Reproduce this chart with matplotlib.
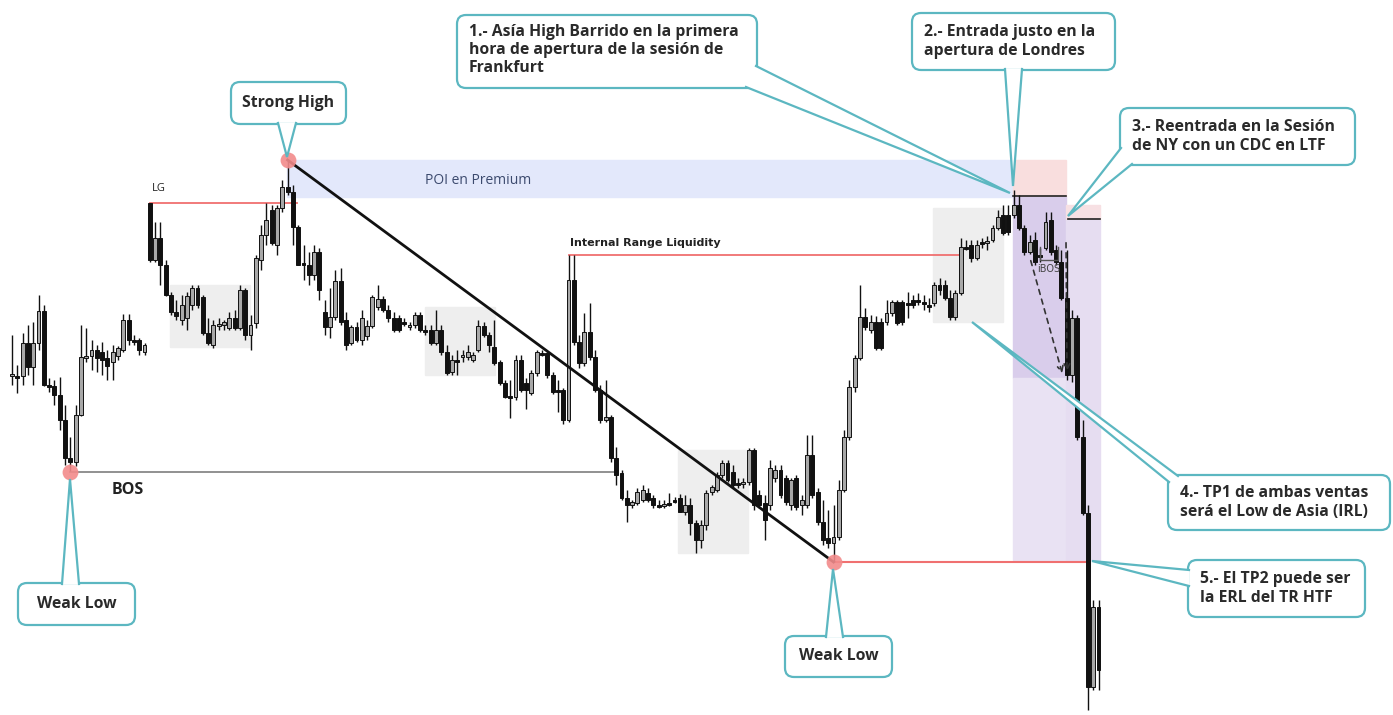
import matplotlib.pyplot as plt
from matplotlib.patches import FancyBboxPatch, Polygon, Rectangle

# candle levels measured downward from the chart top (y axis inverted)
opens = [375, 376, 376, 343, 367, 343, 311, 385, 386, 395, 420, 458, 462,
         415, 357, 356, 350, 352, 358, 362, 356, 350, 320, 340, 340, 352,
         203, 260, 238, 265, 295, 312, 320, 318, 305, 288, 297, 333, 345,
         326, 325, 328, 318, 328, 290, 335, 323, 260, 235, 210, 245, 208, 187,
         192, 227, 263, 265, 275, 252, 312, 327, 317, 281, 320, 343, 327, 340,
         336, 326, 307, 299, 310, 318, 318, 322, 326, 325, 315, 330, 330, 343,
         330, 352, 372, 360, 357, 357, 360, 350,
         326, 335, 347, 362, 383, 396, 397, 360, 383, 393, 373, 353, 353, 375,
         390, 390, 420, 280, 342, 363, 332, 357, 390, 420, 417, 458,
         473, 498, 505, 503, 500, 493, 498, 505, 505, 503, 500, 498, 512, 505,
         523, 540, 525, 492, 490, 475, 463, 472, 483, 483, 482, 450, 495, 503,
         505, 478, 470, 478, 505, 478, 505, 505, 455, 492, 522, 538, 543,
         537, 490, 437, 387, 358, 317, 330, 322, 322, 322, 313, 302, 302, 303,
         300, 300, 302, 305, 303, 285, 285, 298, 317, 293, 247, 245, 258, 242,
         242, 240, 228, 215, 215, 215, 205, 228, 252, 240, 255, 248, 220, 250,
         262, 298, 375, 318, 437, 513, 687, 607]
highs = [335, 365, 333, 325, 322, 295, 305, 378, 380, 377, 405, 437, 405,
         325, 328, 340, 345, 342, 350, 345, 346, 314, 314, 335, 338, 343,
         203, 222, 222, 260, 292, 300, 295, 292, 285, 285, 295, 318, 320,
         318, 320, 312, 310, 285, 288, 315, 255, 225, 203, 205, 205, 180, 160,
         185, 225, 245, 252, 245, 248, 300, 288, 270, 268, 312, 325, 322, 310,
         320, 295, 285, 296, 305, 312, 315, 318, 322, 312, 312, 325, 325, 310,
         325, 345, 355, 350, 350, 345, 352, 320,
         322, 332, 320, 360, 380, 380, 355, 355, 378, 370, 350, 350, 352, 372,
         380, 388, 255, 255, 335, 313, 303, 350, 385, 380, 415, 447,
         470, 490, 500, 488, 485, 488, 495, 500, 500, 493, 497, 494, 495, 498,
         520, 520, 490, 485, 472, 460, 460, 465, 478, 478, 448, 448, 490, 495,
         460, 465, 465, 475, 478, 475, 495, 435, 435, 488, 500, 510, 505,
         480, 430, 380, 355, 285, 308, 315, 316, 318, 300, 300, 300, 300, 292,
         295, 293, 295, 298, 282, 278, 280, 290, 290, 238, 240, 240, 240, 238,
         236, 225, 210, 205, 205, 190, 195, 225, 235, 232, 248, 212, 212, 245,
         250, 250, 310, 315, 420, 505, 600, 600]
lows = [385, 393, 385, 375, 385, 350, 386, 392, 405, 430, 465, 471, 466,
        416, 362, 370, 372, 375, 380, 380, 360, 352, 345, 345, 355, 355,
        262, 262, 285, 296, 315, 320, 325, 330, 310, 308, 335, 345, 348,
        330, 330, 330, 330, 330, 340, 350, 328, 270, 245, 245, 255, 212, 195,
        245, 265, 280, 285, 280, 300, 335, 338, 320, 325, 350, 345, 342, 345,
        340, 328, 310, 312, 322, 332, 332, 326, 330, 328, 332, 335, 345, 345,
        355, 375, 375, 375, 362, 360, 362, 352,
        337, 352, 365, 385, 398, 418, 400, 392, 409, 395, 376, 356, 378, 394,
        412, 424, 422, 345, 368, 366, 360, 392, 423, 422, 462, 485,
        500, 522, 508, 505, 502, 502, 508, 508, 508, 506, 503, 512, 515, 535,
        553, 548, 530, 495, 492, 478, 482, 488, 488, 488, 485, 510, 508, 540,
        510, 482, 498, 505, 510, 510, 515, 508, 498, 525, 545, 548, 562,
        540, 492, 440, 392, 360, 330, 333, 350, 350, 325, 316, 325, 325, 318,
        308, 305, 310, 312, 306, 295, 300, 320, 320, 295, 250, 262, 260, 248,
        250, 242, 230, 235, 235, 218, 230, 255, 254, 265, 262, 250, 255, 265,
        300, 380, 382, 440, 515, 710, 690, 690]
closes = [374, 377, 343, 367, 343, 311, 385, 386, 395, 420, 458, 462, 415,
          357, 356, 350, 358, 360, 366, 352, 348, 320, 340, 341, 350, 345,
          260, 238, 265, 295, 312, 316, 305, 296, 288, 305, 333, 343, 325,
          324, 322, 318, 328, 290, 335, 325, 258, 235, 220, 243, 208, 187, 192,
          227, 265, 265, 275, 252, 290, 327, 317, 281, 322, 345, 327, 340, 318,
          326, 297, 299, 310, 318, 330, 330, 324, 325, 315, 330, 331, 343, 330,
          352, 373, 360, 361, 355, 352, 355, 326,
          335, 345, 363, 383, 397, 397, 360, 390, 390, 373, 352, 354, 375, 392,
          391, 420, 280, 342, 363, 332, 357, 390, 420, 417, 458, 475,
          498, 505, 502, 492, 490, 500, 505, 506, 504, 503, 501, 512, 505, 523,
          540, 525, 493, 487, 475, 463, 480, 485, 484, 482, 450, 505, 505, 520,
          468, 470, 495, 502, 480, 507, 500, 455, 495, 522, 540, 543, 537,
          490, 437, 387, 358, 317, 327, 322, 348, 348, 313, 302, 323, 322, 304,
          305, 301, 303, 306, 285, 290, 298, 317, 293, 247, 248, 258, 245, 243,
          241, 228, 217, 233, 232, 205, 228, 252, 242, 262, 256, 222, 252, 262,
          298, 375, 318, 437, 513, 687, 607, 670]

# chart levels
lg_level = 203
irl_level = 255
bos_level = 472
erl_level = 562
strong_high = (52, 160)
weak_low_1 = (11, 472)
weak_low_2 = (155, 562)

# zones: (first candle, last candle, top level, bottom level)
grey_zones = [(29.8, 44.9, 285, 347), (77.9, 91.1, 307, 375),
              (125.7, 138.9, 450, 553), (173.8, 187.0, 208, 322)]
poi_zone = (51.9, 188.9, 160, 197)

fig = plt.figure(figsize=(13.93, 7.15), dpi=100)
ax = fig.add_axes([0, 0, 1, 1])
ax.set_xlim(-12 / 5.3, (1393 - 12) / 5.3)
ax.set_ylim(715, 0)
ax.axis('off')

# shaded zones
for x0, x1, y0, y1 in grey_zones:
    ax.add_patch(Rectangle((x0, y0), x1 - x0, y1 - y0, color='#eeeeee', zorder=0))
ax.add_patch(Rectangle((poi_zone[0], poi_zone[2]), poi_zone[1] - poi_zone[0],
                       poi_zone[3] - poi_zone[2], color='#e3e8fb', zorder=0))
ax.add_patch(Rectangle((188.9, 160), 9.9, 37, color='#f9dede', zorder=0.5))
ax.add_patch(Rectangle((188.9, 197), 9.9, 181, color='#d9cdeb', zorder=0.5))
ax.add_patch(Rectangle((188.9, 378), 9.9, 182, color='#e9e2f3', zorder=0.5))
ax.add_patch(Rectangle((198.8, 205), 6.5, 15, color='#f7e0e3', zorder=0.5))
ax.add_patch(Rectangle((198.8, 220), 6.5, 340, color='#e6ddf1', zorder=0.5))

# level lines
ax.plot([26, 53.8], [lg_level, lg_level], color='#f07070', lw=1.3, zorder=1)
ax.plot([105, 179], [irl_level, irl_level], color='#f07070', lw=1.3, zorder=1)
ax.plot([11, 113.8], [bos_level, bos_level], color='#888888', lw=1.3, zorder=1)
ax.plot([155, 203], [erl_level, erl_level], color='#f07070', lw=1.5, zorder=1)
ax.plot([188.9, 198.8], [196, 196], color='#222222', lw=1.2, zorder=1)
ax.plot([199.2, 205.3], [219, 219], color='#222222', lw=1.2, zorder=1)

# candles
idx = list(range(len(opens)))
ax.vlines(idx, highs, lows, color='#111111', lw=1, zorder=2)
for i in idx:
    o, c = opens[i], closes[i]
    up = c < o
    ax.bar(i, max(abs(c - o), 1.5), bottom=min(o, c), width=0.72,
           color='#a8a8a8' if up else '#111111', edgecolor='#111111',
           linewidth=0.7, zorder=3)

# trend line
ax.plot([strong_high[0], weak_low_2[0]], [strong_high[1], weak_low_2[1]],
        color='#111111', lw=2, zorder=4)

# swing points
for px, py in [strong_high, weak_low_1, weak_low_2]:
    ax.scatter(px, py, s=130, color='#f28b8b', alpha=0.9, zorder=5, lw=0)

ax.text(26.3, 194, 'LG', fontsize=8, family='Open Sans', color='#222222', va='bottom')
ax.text(105.3, 248, 'Internal Range Liquidity', fontsize=8, fontweight='bold',
        color='#222222', va='bottom')
ax.text(18.8, 490, 'BOS', fontsize=11.5, fontweight='bold', family='Open Sans',
        color='#222222', va='center')
ax.text(78, 180, 'POI en Premium', fontsize=10, family='Open Sans',
        color='#3c4a6e', va='center')

# overlay in pixel coordinates for callouts
ov = fig.add_axes([0, 0, 1, 1])
ov.set_xlim(0, 1393)
ov.set_ylim(715, 0)
ov.axis('off')
ov.patch.set_visible(False)

teal = '#5cb7c1'
font = dict(family='Open Sans', fontweight='bold', color='#2a2a2a', fontsize=11.3)


def callout(x0, y0, x1, y1, text, base1, base2, tip, ha='left', tx=None, ty=None):
    ov.add_patch(FancyBboxPatch((x0, y0), x1 - x0, y1 - y0,
                                boxstyle='round,pad=0,rounding_size=9',
                                fc='white', ec=teal, lw=1.6, zorder=6))
    ov.add_patch(Polygon([base1, tip, base2], closed=True, fc='white',
                         ec='none', zorder=7))
    ov.plot([base1[0], tip[0], base2[0]], [base1[1], tip[1], base2[1]],
            color=teal, lw=1.6, zorder=8, solid_joinstyle='miter')
    if tx is None:
        tx = (x0 + x1) / 2 if ha == 'center' else x0 + 12
    if ty is None:
        ty = (y0 + y1) / 2
    ov.text(tx, ty, text, ha=ha, va='center', linespacing=1.18, zorder=9, **font)


callout(231, 82, 346, 124, 'Strong High', (278, 123), (296, 123), (287, 157), ha='center')
callout(18, 583, 135, 625, 'Weak Low', (62, 584), (79, 584), (70, 479), ha='center')
callout(785, 636, 892, 677, 'Weak Low', (826, 637), (843, 637), (833, 569), ha='center')
callout(457, 15, 757, 88,
        '1.- Asía High Barrido en la primera\nhora de apertura de la sesión de\nFrankfurt',
        (756, 66), (746, 87), (1010, 193), ty=50)
callout(912, 13, 1115, 70, '2.- Entrada justo en la\napertura de Londres',
        (1005, 69), (1022, 69), (1013, 186))
callout(1120, 108, 1355, 165, '3.- Reentrada en la Sesión\nde NY con un CDC en LTF',
        (1121, 148), (1132, 164), (1068, 216))
callout(1168, 475, 1390, 530, '4.- TP1 de ambas ventas\nserá el Low de Asia (IRL)',
        (1169, 482), (1178, 476), (972, 322))
callout(1188, 560, 1365, 617, '5.- El TP2 puede ser\nla ERL del TR HTF',
        (1189, 570), (1189, 586), (1092, 561))

# iBOS bracket and dashed projections
ov.plot([1040, 1040, 1058, 1058], [247, 260, 260, 247], color='#555555', lw=1, zorder=5)
ov.text(1049, 269, 'iBOS', fontsize=7, color='#444444', ha='center', va='center', zorder=5)
for (sx, sy), (ex, ey) in [((1030, 258), (1063, 376)), ((1066, 240), (1067, 374))]:
    ov.annotate('', xy=(ex, ey), xytext=(sx, sy),
                arrowprops=dict(arrowstyle='->', ls=(0, (3, 3)), color='#333333', lw=1.2),
                zorder=5)

fig.savefig('out.png', dpi=100)
